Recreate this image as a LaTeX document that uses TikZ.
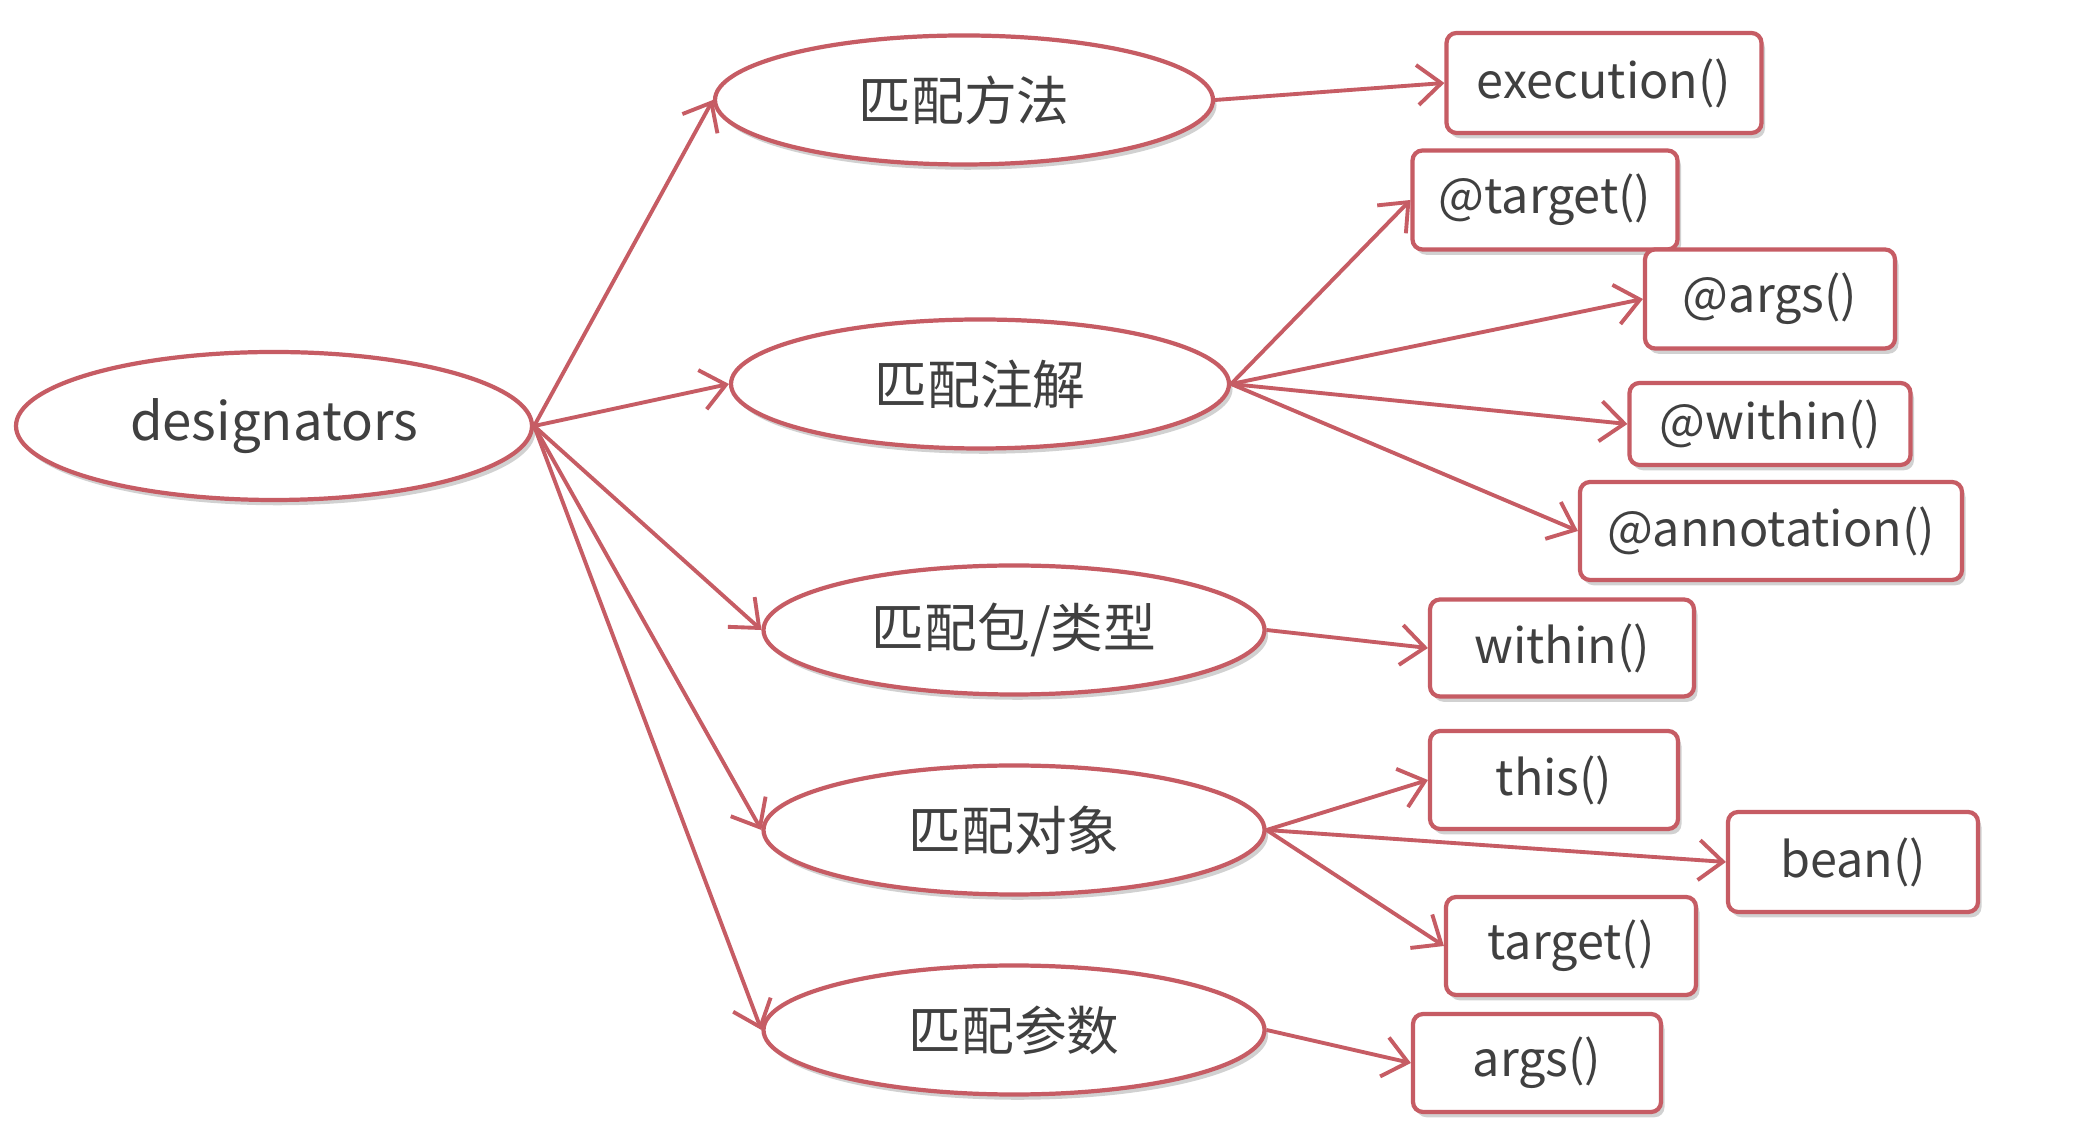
\documentclass[tikz,border=0pt]{standalone}
\usepackage{fontspec}
\setmainfont{Noto Sans CJK SC}
\usetikzlibrary{arrows.meta,shapes.geometric,shadows}
\definecolor{edgec}{RGB}{198,92,100}
\definecolor{txtc}{RGB}{64,64,64}
\begin{document}
\begin{tikzpicture}[x=0.1mm,y=-0.1mm,
  lbl/.style={text=txtc, font=\fontsize{15}{18}\selectfont},
  shd/.style={drop shadow={shadow xshift=1pt, shadow yshift=-1.5pt, opacity=0.18, fill=black}},
  ell/.style={ellipse, draw=edgec, line width=1.2pt, fill=white, inner sep=0pt, lbl, shd,
              minimum width=49.8mm, minimum height=12.9mm},
  box/.style={rectangle, rounded corners=1mm, draw=edgec, line width=1.2pt, fill=white, inner sep=0pt, lbl, shd,
              font=\fontsize{13.8}{16}\selectfont},
  arr/.style={draw=edgec, line width=1.1pt, -{Straight Barb[length=2.4mm, width=4mm, line width=1.1pt]}}
]
\useasboundingbox (0,0) rectangle (2100,1126);
\fill[white] (0,0) rectangle (2100,1126);

\node[ell, minimum width=51.6mm, minimum height=14.8mm] (des) at (274,426) {designators};
\node[ell] (m1) at (964,100) {匹配方法};
\node[ell] (m2) at (980,384) {匹配注解};
\node[ell, minimum width=50.1mm] (m3) at (1014,630) {匹配包/类型};
\node[ell, minimum width=50.1mm] (m4) at (1014,830) {匹配对象};
\node[ell, minimum width=50.1mm] (m5) at (1014,1030) {匹配参数};

\node[box, minimum width=31.5mm, minimum height=10mm] (exe) at (1604,83) {execution()};
\node[box, minimum width=26.5mm, minimum height=9.9mm] (atarget) at (1545,200) {@target()};
\node[box, minimum width=25mm, minimum height=9.9mm] (aargs) at (1770,299) {@args()};
\node[box, minimum width=28.1mm, minimum height=8.2mm] (awithin) at (1770,424) {@within()};
\node[box, minimum width=38.2mm, minimum height=9.8mm] (aanno) at (1771,531) {@annotation()};
\node[box, minimum width=26.4mm, minimum height=9.7mm] (within) at (1562,648) {within()};
\node[box, minimum width=24.8mm, minimum height=9.8mm] (this) at (1554,780) {this()};
\node[box, minimum width=25mm, minimum height=10mm] (bean) at (1853,862) {bean()};
\node[box, minimum width=25mm, minimum height=9.8mm] (target) at (1571,946) {target()};
\node[box, minimum width=24.8mm, minimum height=9.8mm] (args) at (1537,1063) {args()};

\foreach \t in {m1,m2,m3,m4,m5} \draw[arr] (des.east) -- (\t.west);
\draw[arr] (m1.east) -- (exe.west);
\foreach \t in {atarget,aargs,awithin,aanno} \draw[arr] (m2.east) -- (\t.west);
\draw[arr] (m3.east) -- (within.west);
\foreach \t in {this,bean,target} \draw[arr] (m4.east) -- (\t.west);
\draw[arr] (m5.east) -- (args.west);
\end{tikzpicture}
\end{document}
